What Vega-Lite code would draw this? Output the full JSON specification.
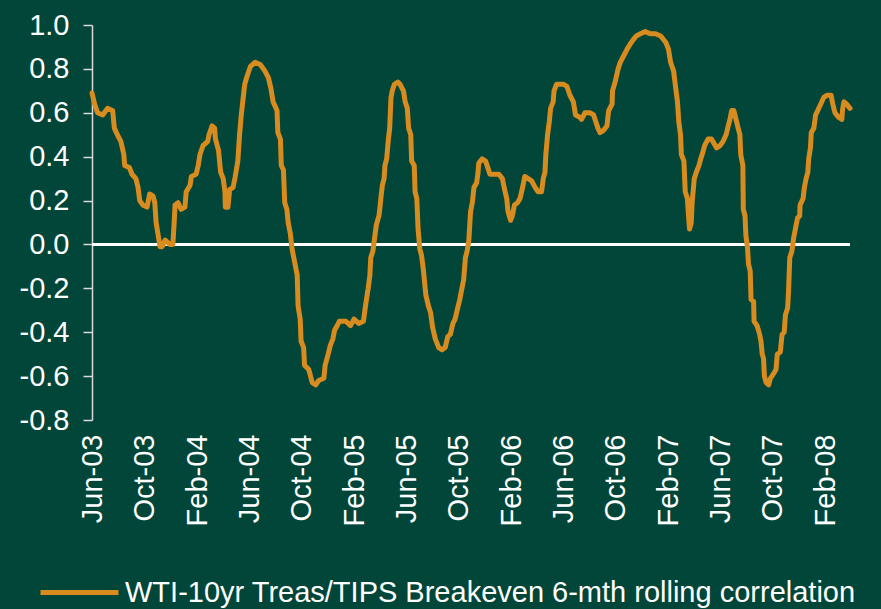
{
  "$schema": "https://vega.github.io/schema/vega-lite/v6.json",
  "width": 758,
  "height": 395,
  "autosize": {"type": "none"},
  "padding": {"left": 92, "top": 25, "right": 31, "bottom": 189},
  "background": "#02463A",
  "config": {"view": {"stroke": null}, "font": "Liberation Sans"},
  "data": {"values": [
    {"date": "2003/06/01", "corr": 0.69}, {"date": "2003/06/07", "corr": 0.64}, {"date": "2003/06/14", "corr": 0.60}, {"date": "2003/06/26", "corr": 0.59},
    {"date": "2003/07/07", "corr": 0.62}, {"date": "2003/07/19", "corr": 0.61}, {"date": "2003/07/23", "corr": 0.53}, {"date": "2003/07/30", "corr": 0.50},
    {"date": "2003/08/07", "corr": 0.47}, {"date": "2003/08/14", "corr": 0.41}, {"date": "2003/08/16", "corr": 0.36}, {"date": "2003/08/27", "corr": 0.35},
    {"date": "2003/09/02", "corr": 0.32}, {"date": "2003/09/11", "corr": 0.30}, {"date": "2003/09/16", "corr": 0.26}, {"date": "2003/09/20", "corr": 0.20},
    {"date": "2003/09/27", "corr": 0.18}, {"date": "2003/10/07", "corr": 0.17}, {"date": "2003/10/13", "corr": 0.23}, {"date": "2003/10/21", "corr": 0.22},
    {"date": "2003/10/25", "corr": 0.19}, {"date": "2003/10/28", "corr": 0.10}, {"date": "2003/11/02", "corr": 0.04}, {"date": "2003/11/06", "corr": -0.01},
    {"date": "2003/11/11", "corr": -0.01}, {"date": "2003/11/18", "corr": 0.02}, {"date": "2003/11/29", "corr": 0.00}, {"date": "2003/12/06", "corr": 0.00},
    {"date": "2003/12/09", "corr": 0.10}, {"date": "2003/12/11", "corr": 0.18}, {"date": "2003/12/18", "corr": 0.19}, {"date": "2003/12/25", "corr": 0.16},
    {"date": "2004/01/03", "corr": 0.17}, {"date": "2004/01/06", "corr": 0.24}, {"date": "2004/01/15", "corr": 0.27}, {"date": "2004/01/18", "corr": 0.31},
    {"date": "2004/01/29", "corr": 0.32}, {"date": "2004/02/03", "corr": 0.36}, {"date": "2004/02/07", "corr": 0.41}, {"date": "2004/02/14", "corr": 0.45},
    {"date": "2004/02/25", "corr": 0.47}, {"date": "2004/02/28", "corr": 0.50}, {"date": "2004/03/06", "corr": 0.54}, {"date": "2004/03/12", "corr": 0.53},
    {"date": "2004/03/14", "corr": 0.48}, {"date": "2004/03/21", "corr": 0.43}, {"date": "2004/03/26", "corr": 0.33}, {"date": "2004/04/01", "corr": 0.30},
    {"date": "2004/04/05", "corr": 0.24}, {"date": "2004/04/06", "corr": 0.17}, {"date": "2004/04/12", "corr": 0.17}, {"date": "2004/04/16", "corr": 0.25},
    {"date": "2004/04/24", "corr": 0.26}, {"date": "2004/04/29", "corr": 0.31}, {"date": "2004/05/05", "corr": 0.38}, {"date": "2004/05/09", "corr": 0.50},
    {"date": "2004/05/13", "corr": 0.59}, {"date": "2004/05/17", "corr": 0.66}, {"date": "2004/05/21", "corr": 0.73}, {"date": "2004/05/27", "corr": 0.77},
    {"date": "2004/06/03", "corr": 0.81}, {"date": "2004/06/14", "corr": 0.83}, {"date": "2004/06/26", "corr": 0.82}, {"date": "2004/07/07", "corr": 0.79},
    {"date": "2004/07/15", "corr": 0.76}, {"date": "2004/07/21", "corr": 0.71}, {"date": "2004/07/26", "corr": 0.65}, {"date": "2004/08/04", "corr": 0.61},
    {"date": "2004/08/06", "corr": 0.51}, {"date": "2004/08/12", "corr": 0.48}, {"date": "2004/08/14", "corr": 0.36}, {"date": "2004/08/19", "corr": 0.34},
    {"date": "2004/08/22", "corr": 0.19}, {"date": "2004/08/27", "corr": 0.16}, {"date": "2004/08/30", "corr": 0.10}, {"date": "2004/09/04", "corr": 0.05},
    {"date": "2004/09/08", "corr": -0.02}, {"date": "2004/09/12", "corr": -0.06}, {"date": "2004/09/17", "corr": -0.11}, {"date": "2004/09/20", "corr": -0.14},
    {"date": "2004/09/22", "corr": -0.28}, {"date": "2004/09/27", "corr": -0.34}, {"date": "2004/09/29", "corr": -0.44}, {"date": "2004/10/05", "corr": -0.47},
    {"date": "2004/10/07", "corr": -0.55}, {"date": "2004/10/17", "corr": -0.57}, {"date": "2004/10/21", "corr": -0.60}, {"date": "2004/10/25", "corr": -0.63},
    {"date": "2004/11/02", "corr": -0.64}, {"date": "2004/11/09", "corr": -0.62}, {"date": "2004/11/21", "corr": -0.61}, {"date": "2004/11/24", "corr": -0.55},
    {"date": "2004/12/01", "corr": -0.50}, {"date": "2004/12/06", "corr": -0.46}, {"date": "2004/12/12", "corr": -0.43}, {"date": "2004/12/16", "corr": -0.39},
    {"date": "2004/12/22", "corr": -0.37}, {"date": "2004/12/27", "corr": -0.35}, {"date": "2005/01/11", "corr": -0.35}, {"date": "2005/01/22", "corr": -0.37},
    {"date": "2005/01/30", "corr": -0.34}, {"date": "2005/02/10", "corr": -0.36}, {"date": "2005/02/21", "corr": -0.35}, {"date": "2005/02/25", "corr": -0.29},
    {"date": "2005/02/28", "corr": -0.25}, {"date": "2005/03/04", "corr": -0.20}, {"date": "2005/03/08", "corr": -0.14}, {"date": "2005/03/10", "corr": -0.06},
    {"date": "2005/03/15", "corr": -0.03}, {"date": "2005/03/19", "corr": 0.03}, {"date": "2005/03/23", "corr": 0.09}, {"date": "2005/03/29", "corr": 0.13},
    {"date": "2005/04/01", "corr": 0.18}, {"date": "2005/04/03", "corr": 0.22}, {"date": "2005/04/06", "corr": 0.27}, {"date": "2005/04/10", "corr": 0.30},
    {"date": "2005/04/12", "corr": 0.36}, {"date": "2005/04/16", "corr": 0.39}, {"date": "2005/04/20", "corr": 0.48}, {"date": "2005/04/23", "corr": 0.53},
    {"date": "2005/04/26", "corr": 0.67}, {"date": "2005/04/29", "corr": 0.70}, {"date": "2005/05/04", "corr": 0.73}, {"date": "2005/05/12", "corr": 0.74},
    {"date": "2005/05/17", "corr": 0.73}, {"date": "2005/05/25", "corr": 0.70}, {"date": "2005/05/29", "corr": 0.65}, {"date": "2005/06/03", "corr": 0.62},
    {"date": "2005/06/06", "corr": 0.53}, {"date": "2005/06/11", "corr": 0.50}, {"date": "2005/06/13", "corr": 0.38}, {"date": "2005/06/19", "corr": 0.36},
    {"date": "2005/06/21", "corr": 0.24}, {"date": "2005/06/25", "corr": 0.21}, {"date": "2005/06/28", "corr": 0.07}, {"date": "2005/07/02", "corr": -0.02},
    {"date": "2005/07/06", "corr": -0.05}, {"date": "2005/07/10", "corr": -0.11}, {"date": "2005/07/14", "corr": -0.19}, {"date": "2005/07/16", "corr": -0.23},
    {"date": "2005/07/22", "corr": -0.28}, {"date": "2005/07/27", "corr": -0.31}, {"date": "2005/08/01", "corr": -0.38}, {"date": "2005/08/07", "corr": -0.43},
    {"date": "2005/08/15", "corr": -0.47}, {"date": "2005/08/23", "corr": -0.48}, {"date": "2005/08/30", "corr": -0.47}, {"date": "2005/09/05", "corr": -0.42},
    {"date": "2005/09/11", "corr": -0.41}, {"date": "2005/09/17", "corr": -0.36}, {"date": "2005/09/22", "corr": -0.34}, {"date": "2005/09/28", "corr": -0.29},
    {"date": "2005/10/03", "corr": -0.25}, {"date": "2005/10/08", "corr": -0.20}, {"date": "2005/10/12", "corr": -0.16}, {"date": "2005/10/16", "corr": -0.06},
    {"date": "2005/10/20", "corr": -0.03}, {"date": "2005/10/24", "corr": 0.02}, {"date": "2005/10/28", "corr": 0.15}, {"date": "2005/11/01", "corr": 0.19},
    {"date": "2005/11/05", "corr": 0.26}, {"date": "2005/11/11", "corr": 0.28}, {"date": "2005/11/14", "corr": 0.32}, {"date": "2005/11/16", "corr": 0.37},
    {"date": "2005/11/24", "corr": 0.39}, {"date": "2005/12/02", "corr": 0.38}, {"date": "2005/12/07", "corr": 0.35}, {"date": "2005/12/12", "corr": 0.32},
    {"date": "2005/12/25", "corr": 0.32}, {"date": "2006/01/02", "corr": 0.32}, {"date": "2006/01/10", "corr": 0.30}, {"date": "2006/01/14", "corr": 0.26},
    {"date": "2006/01/20", "corr": 0.21}, {"date": "2006/01/23", "corr": 0.15}, {"date": "2006/01/29", "corr": 0.11}, {"date": "2006/02/02", "corr": 0.13},
    {"date": "2006/02/07", "corr": 0.18}, {"date": "2006/02/14", "corr": 0.19}, {"date": "2006/02/20", "corr": 0.21}, {"date": "2006/02/26", "corr": 0.26},
    {"date": "2006/03/03", "corr": 0.31}, {"date": "2006/03/11", "corr": 0.30}, {"date": "2006/03/19", "corr": 0.29}, {"date": "2006/03/27", "corr": 0.26},
    {"date": "2006/04/03", "corr": 0.24}, {"date": "2006/04/11", "corr": 0.24}, {"date": "2006/04/15", "corr": 0.30}, {"date": "2006/04/19", "corr": 0.33},
    {"date": "2006/04/21", "corr": 0.41}, {"date": "2006/04/25", "corr": 0.50}, {"date": "2006/04/29", "corr": 0.56}, {"date": "2006/05/02", "corr": 0.62},
    {"date": "2006/05/08", "corr": 0.65}, {"date": "2006/05/10", "corr": 0.70}, {"date": "2006/05/16", "corr": 0.73}, {"date": "2006/05/22", "corr": 0.73},
    {"date": "2006/06/01", "corr": 0.73}, {"date": "2006/06/09", "corr": 0.72}, {"date": "2006/06/16", "corr": 0.68}, {"date": "2006/06/24", "corr": 0.65},
    {"date": "2006/06/29", "corr": 0.59}, {"date": "2006/07/09", "corr": 0.58}, {"date": "2006/07/13", "corr": 0.57}, {"date": "2006/07/21", "corr": 0.60},
    {"date": "2006/08/02", "corr": 0.60}, {"date": "2006/08/10", "corr": 0.59}, {"date": "2006/08/15", "corr": 0.56}, {"date": "2006/08/20", "corr": 0.53},
    {"date": "2006/08/25", "corr": 0.51}, {"date": "2006/09/02", "corr": 0.52}, {"date": "2006/09/10", "corr": 0.54}, {"date": "2006/09/14", "corr": 0.61},
    {"date": "2006/09/22", "corr": 0.64}, {"date": "2006/09/23", "corr": 0.70}, {"date": "2006/09/29", "corr": 0.74}, {"date": "2006/10/06", "corr": 0.80},
    {"date": "2006/10/11", "corr": 0.83}, {"date": "2006/10/19", "corr": 0.86}, {"date": "2006/10/27", "corr": 0.89}, {"date": "2006/11/02", "corr": 0.91},
    {"date": "2006/11/09", "corr": 0.93}, {"date": "2006/11/17", "corr": 0.95}, {"date": "2006/11/27", "corr": 0.96}, {"date": "2006/12/08", "corr": 0.97},
    {"date": "2006/12/20", "corr": 0.96}, {"date": "2007/01/01", "corr": 0.96}, {"date": "2007/01/13", "corr": 0.95}, {"date": "2007/01/25", "corr": 0.92},
    {"date": "2007/01/31", "corr": 0.89}, {"date": "2007/02/05", "corr": 0.83}, {"date": "2007/02/12", "corr": 0.79}, {"date": "2007/02/17", "corr": 0.71},
    {"date": "2007/02/21", "corr": 0.65}, {"date": "2007/02/24", "corr": 0.56}, {"date": "2007/02/28", "corr": 0.50}, {"date": "2007/03/02", "corr": 0.41},
    {"date": "2007/03/08", "corr": 0.38}, {"date": "2007/03/11", "corr": 0.24}, {"date": "2007/03/16", "corr": 0.21}, {"date": "2007/03/19", "corr": 0.12},
    {"date": "2007/03/21", "corr": 0.07}, {"date": "2007/03/25", "corr": 0.10}, {"date": "2007/03/27", "corr": 0.19}, {"date": "2007/04/01", "corr": 0.30},
    {"date": "2007/04/06", "corr": 0.33}, {"date": "2007/04/12", "corr": 0.36}, {"date": "2007/04/16", "corr": 0.39}, {"date": "2007/04/21", "corr": 0.42},
    {"date": "2007/04/25", "corr": 0.45}, {"date": "2007/05/03", "corr": 0.48}, {"date": "2007/05/11", "corr": 0.48}, {"date": "2007/05/23", "corr": 0.44},
    {"date": "2007/05/31", "corr": 0.45}, {"date": "2007/06/07", "corr": 0.47}, {"date": "2007/06/14", "corr": 0.50}, {"date": "2007/06/19", "corr": 0.54},
    {"date": "2007/06/23", "corr": 0.57}, {"date": "2007/06/27", "corr": 0.61}, {"date": "2007/07/02", "corr": 0.61}, {"date": "2007/07/07", "corr": 0.57},
    {"date": "2007/07/12", "corr": 0.53}, {"date": "2007/07/16", "corr": 0.50}, {"date": "2007/07/18", "corr": 0.41}, {"date": "2007/07/23", "corr": 0.36},
    {"date": "2007/07/24", "corr": 0.16}, {"date": "2007/07/28", "corr": 0.13}, {"date": "2007/07/30", "corr": 0.04}, {"date": "2007/08/03", "corr": -0.02},
    {"date": "2007/08/05", "corr": -0.09}, {"date": "2007/08/09", "corr": -0.12}, {"date": "2007/08/11", "corr": -0.25}, {"date": "2007/08/17", "corr": -0.26},
    {"date": "2007/08/18", "corr": -0.35}, {"date": "2007/08/25", "corr": -0.37}, {"date": "2007/08/31", "corr": -0.41}, {"date": "2007/09/03", "corr": -0.44},
    {"date": "2007/09/06", "corr": -0.50}, {"date": "2007/09/09", "corr": -0.52}, {"date": "2007/09/11", "corr": -0.60}, {"date": "2007/09/15", "corr": -0.63},
    {"date": "2007/09/21", "corr": -0.64}, {"date": "2007/09/25", "corr": -0.61}, {"date": "2007/10/02", "corr": -0.59}, {"date": "2007/10/08", "corr": -0.57},
    {"date": "2007/10/11", "corr": -0.50}, {"date": "2007/10/18", "corr": -0.49}, {"date": "2007/10/22", "corr": -0.41}, {"date": "2007/10/27", "corr": -0.40},
    {"date": "2007/10/30", "corr": -0.32}, {"date": "2007/11/04", "corr": -0.29}, {"date": "2007/11/06", "corr": -0.22}, {"date": "2007/11/09", "corr": -0.06},
    {"date": "2007/11/14", "corr": -0.03}, {"date": "2007/11/18", "corr": 0.03}, {"date": "2007/11/22", "corr": 0.07}, {"date": "2007/11/27", "corr": 0.12},
    {"date": "2007/12/02", "corr": 0.13}, {"date": "2007/12/03", "corr": 0.18}, {"date": "2007/12/10", "corr": 0.21}, {"date": "2007/12/13", "corr": 0.26},
    {"date": "2007/12/17", "corr": 0.30}, {"date": "2007/12/21", "corr": 0.33}, {"date": "2007/12/23", "corr": 0.39}, {"date": "2007/12/27", "corr": 0.44},
    {"date": "2007/12/29", "corr": 0.51}, {"date": "2008/01/04", "corr": 0.53}, {"date": "2008/01/08", "corr": 0.59}, {"date": "2008/01/13", "corr": 0.61},
    {"date": "2008/01/20", "corr": 0.64}, {"date": "2008/01/27", "corr": 0.67}, {"date": "2008/02/04", "corr": 0.68}, {"date": "2008/02/13", "corr": 0.68},
    {"date": "2008/02/17", "corr": 0.64}, {"date": "2008/02/22", "corr": 0.60}, {"date": "2008/03/01", "corr": 0.58}, {"date": "2008/03/09", "corr": 0.57},
    {"date": "2008/03/11", "corr": 0.62}, {"date": "2008/03/14", "corr": 0.65}, {"date": "2008/03/20", "corr": 0.64}, {"date": "2008/03/28", "corr": 0.62}
  ]},
  "layer": [
    {
      "mark": {"type": "rule", "color": "#FFFFFF", "strokeWidth": 1.5},
      "encoding": {"y": {"datum": 0, "type": "quantitative"}}
    },
    {
      "mark": {"type": "line", "strokeWidth": 5, "strokeJoin": "round", "strokeCap": "round"},
      "encoding": {
        "x": {
          "field": "date", "type": "temporal",
          "scale": {"domain": [{"year": 2003, "month": 6, "date": 1}, {"year": 2008, "month": 3, "date": 28}]},
          "axis": {
            "values": [
              {"year": 2003, "month": 6, "date": 1}, {"year": 2003, "month": 10, "date": 1},
              {"year": 2004, "month": 2, "date": 1}, {"year": 2004, "month": 6, "date": 1}, {"year": 2004, "month": 10, "date": 1},
              {"year": 2005, "month": 2, "date": 1}, {"year": 2005, "month": 6, "date": 1}, {"year": 2005, "month": 10, "date": 1},
              {"year": 2006, "month": 2, "date": 1}, {"year": 2006, "month": 6, "date": 1}, {"year": 2006, "month": 10, "date": 1},
              {"year": 2007, "month": 2, "date": 1}, {"year": 2007, "month": 6, "date": 1}, {"year": 2007, "month": 10, "date": 1},
              {"year": 2008, "month": 2, "date": 1}
            ],
            "format": "%b-%y", "labelAngle": -90, "labelFontSize": 29, "labelColor": "#FFFFFF",
            "labelFont": "Liberation Sans", "domain": false, "ticks": false, "grid": false, "title": null,
            "labelPadding": 14, "labelOverlap": false, "labelFlush": false, "labelBound": false
          }
        },
        "y": {
          "field": "corr", "type": "quantitative",
          "scale": {"domain": [-0.8, 1.0], "nice": false, "zero": false},
          "axis": {
            "values": [-0.8, -0.6, -0.4, -0.2, 0, 0.2, 0.4, 0.6, 0.8, 1.0],
            "format": ".1f", "labelExpr": "replace(datum.label, '\u2212', '-')",
            "labelFontSize": 29, "labelColor": "#FFFFFF", "labelFont": "Liberation Sans",
            "domainColor": "#D9D9D9", "domainWidth": 1.5, "tickColor": "#D9D9D9", "tickWidth": 1.5,
            "tickSize": 9, "labelPadding": 14, "grid": false, "title": null
          }
        },
        "color": {
          "datum": "WTI-10yr Treas/TIPS Breakeven 6-mth rolling correlation", "type": "nominal",
          "scale": {"range": ["#D88B1E"]},
          "legend": {
            "title": null, "orient": "none", "legendX": -54, "legendY": 526,
            "labelFontSize": 29, "labelColor": "#FFFFFF", "labelFont": "Liberation Sans",
            "symbolType": "stroke", "symbolSize": 6084, "symbolStrokeWidth": 5,
            "labelOffset": 4, "labelLimit": 1000
          }
        }
      }
    }
  ]
}
